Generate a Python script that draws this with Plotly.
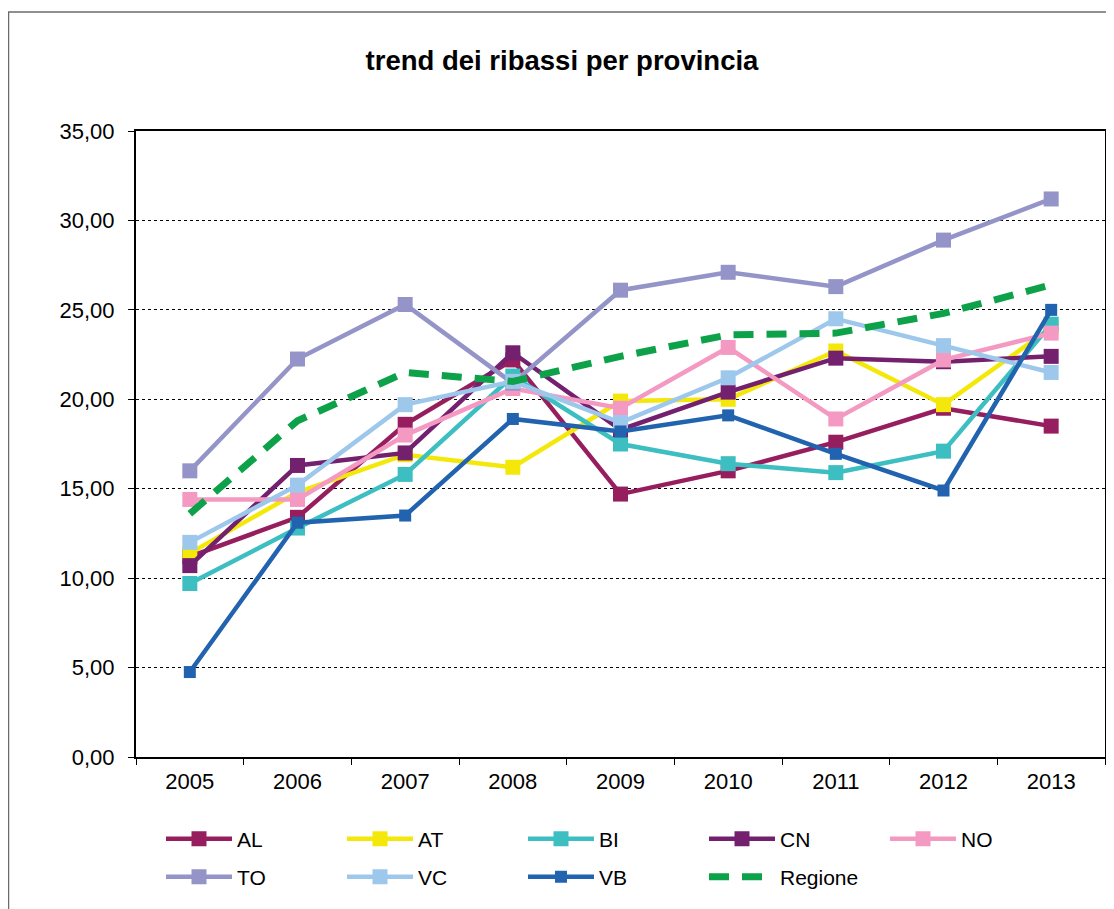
import plotly.graph_objects as go

years = ["2005", "2006", "2007", "2008", "2009", "2010", "2011", "2012", "2013"]
AL = [11.2, 13.4, 18.6, 22.2, 14.7, 16.0, 17.6, 19.5, 18.5]
AT = [11.4, 14.8, 16.9, 16.2, 19.9, 20.0, 22.7, 19.7, 24.0]
BI = [9.7, 12.8, 15.8, 21.3, 17.5, 16.4, 15.9, 17.1, 24.2]
CN = [10.7, 16.3, 17.0, 22.6, 18.3, 20.4, 22.3, 22.1, 22.4]
NO = [14.4, 14.4, 18.0, 20.6, 19.5, 22.9, 18.9, 22.2, 23.7]
TO = [16.0, 22.25, 25.3, 20.9, 26.1, 27.1, 26.3, 28.9, 31.2]
VC = [12.0, 15.2, 19.7, 21.0, 18.7, 21.2, 24.5, 23.0, 21.5]
VB = [4.75, 13.1, 13.5, 18.9, 18.2, 19.1, 16.95, 14.9, 25.0]
Regione = [13.6, 18.8, 21.5, 21.0, 22.4, 23.6, 23.7, 24.8, 26.4]

series = [
    ("AL", AL, "#961E5F", 15, "legend"),
    ("AT", AT, "#F4E80A", 15, "legend"),
    ("BI", BI, "#3DBFC2", 15, "legend"),
    ("CN", CN, "#73206F", 15, "legend"),
    ("NO", NO, "#F49AC2", 15, "legend"),
    ("TO", TO, "#9494C8", 15, "legend2"),
    ("VC", VC, "#9DC8EB", 15, "legend2"),
    ("VB", VB, "#2163AE", 12, "legend2"),
]

FONT = "Arial, Liberation Sans, sans-serif"

# page offset of the figure (browser body margin) is 8px; plot area in figure coords
L, R, T, B = 128, 17, 123, 160
W, H = 1114, 909
PW = W - L - R
PH = H - T - B


def px(xfig):
    return (xfig - L) / PW


def py(yfig):
    return (H - B - yfig) / PH


fig = go.Figure()
for name, vals, color, msize, leg in series:
    fig.add_trace(go.Scatter(
        x=years, y=vals, name=name, mode="lines+markers",
        line=dict(color=color, width=4.5),
        marker=dict(symbol="square", size=msize, color=color, line=dict(width=0)),
        legend=leg,
    ))

fig.add_trace(go.Scatter(
    x=years, y=Regione, name="Regione", mode="lines",
    line=dict(color="#0DA24A", width=7, dash="20px,13px"),
    legend="legend2",
))

# outer chart border
fig.add_shape(type="rect", xref="paper", yref="paper",
              x0=px(0.5), x1=px(1125), y0=py(930), y1=py(4),
              line=dict(color="#6b6b6b", width=1.5), fillcolor="rgba(0,0,0,0)", layer="below")

legend_common = dict(
    orientation="h", xanchor="left", yanchor="middle",
    font=dict(family=FONT, size=21, color="black"),
    entrywidth=100, entrywidthmode="pixels",
    itemwidth=66, bgcolor="rgba(0,0,0,0)", traceorder="normal",
)

fig.update_layout(
    width=W, height=H,
    margin=dict(l=L, r=R, t=T, b=B, autoexpand=False),
    paper_bgcolor="white", plot_bgcolor="white",
    separators=",.",
    font=dict(family=FONT, size=22, color="black"),
    title=dict(text="<b>trend dei ribassi per provincia</b>",
               x=554 / W, xref="container", xanchor="center",
               y=1 - 52 / H, yref="container", yanchor="middle",
               font=dict(family=FONT, size=27.5, color="black")),
    xaxis=dict(type="category", range=[-0.5, 8.5],
               showline=True, linecolor="black", linewidth=2, mirror=True,
               ticks="outside", tickson="boundaries", ticklen=6, tickcolor="black", tickwidth=1,
               showgrid=False, tickfont=dict(size=22, family=FONT), zeroline=False,
               ticklabelstandoff=4),
    yaxis=dict(range=[0, 35], dtick=5, tickformat=".2f",
               showline=True, linecolor="black", linewidth=2, mirror=True,
               ticks="outside", ticklen=6, tickcolor="black", tickwidth=1,
               showgrid=True, gridcolor="black", gridwidth=1, griddash="dot",
               tickfont=dict(size=22, family=FONT), zeroline=False,
               ticklabelstandoff=9),
    legend=dict(x=px(153), y=py(831), **legend_common),
    legend2=dict(x=px(153), y=py(869), **legend_common),
    showlegend=True,
)

fig.write_html("out.html")
